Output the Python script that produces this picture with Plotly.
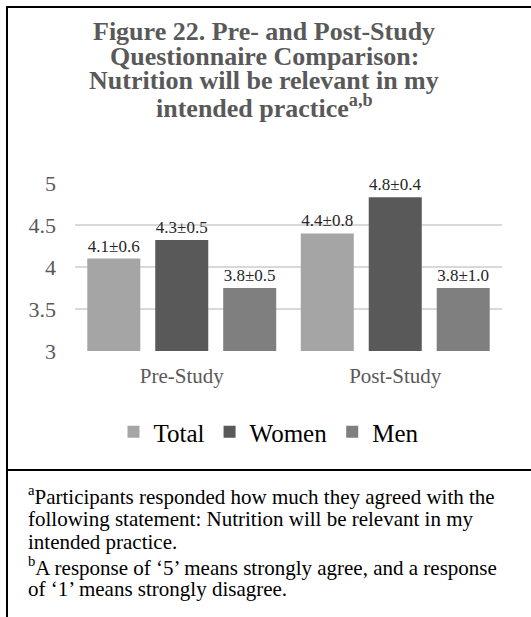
import plotly.graph_objects as go

# ---- data ----
categories = ["Pre-Study", "Post-Study"]
total_vals = [4.1, 4.4]
women_vals = [4.32, 4.83]
men_vals = [3.75, 3.75]
total_labels = ["4.1±0.6", "4.4±0.8"]
women_labels = ["4.3±0.5", "4.8±0.4"]
men_labels = ["3.8±0.5", "3.8±1.0"]
series_names = ["Total", "Women", "Men"]
series_colors = ["#A5A5A5", "#595959", "#7F7F7F"]
y_ticks = [3, 3.5, 4, 4.5, 5]
title_lines = [
    "Figure 22. Pre- and Post-Study",
    "Questionnaire Comparison:",
    "Nutrition will be relevant in my",
    "intended practice<sup>a,b</sup>",
]
footnote_lines = [
    "<sup>a</sup>Participants responded how much they agreed with the",
    "following statement: Nutrition will be relevant in my",
    "intended practice.",
    "<sup>b</sup>A response of ‘5’ means strongly agree, and a response",
    "of ‘1’ means strongly disagree.",
]

W, H = 531, 617
PL, PR, PT, PB = 75, 502, 183, 351  # plot area in pixels


def px_x(x):
    return (x - PL) / (PR - PL)


def px_y(y):
    return (PB - y) / (PB - PT)


FONT = "Liberation Serif, Times New Roman, serif"

fig = go.Figure()
for name, vals, labels, color in zip(
    series_names,
    [total_vals, women_vals, men_vals],
    [total_labels, women_labels, men_labels],
    series_colors,
):
    fig.add_trace(
        go.Bar(
            name=name,
            x=categories,
            y=vals,
            text=labels,
            textposition="outside",
            textfont=dict(family=FONT, size=17, color="#262626"),
            marker=dict(color=color, line=dict(width=0)),
            cliponaxis=False,
        )
    )

annotations = []
title_y = [31, 56, 81, 106]
for line, yy in zip(title_lines, title_y):
    annotations.append(
        dict(
            text="<b>" + line + "</b>",
            x=px_x(264),
            y=px_y(yy),
            xref="paper",
            yref="paper",
            xanchor="center",
            yanchor="middle",
            showarrow=False,
            font=dict(family=FONT, size=26, color="#595959"),
        )
    )
foot_y = [495, 519, 542, 566, 589]
for line, yy in zip(footnote_lines, foot_y):
    annotations.append(
        dict(
            text=line,
            x=px_x(26),
            y=px_y(yy),
            xref="paper",
            yref="paper",
            xanchor="left",
            yanchor="middle",
            showarrow=False,
            font=dict(family=FONT, size=21, color="#000000"),
        )
    )

shapes = [
    dict(type="line", xref="paper", yref="paper",
         x0=px_x(7), x1=px_x(7), y0=px_y(6), y1=px_y(640),
         line=dict(color="#000000", width=2)),
    dict(type="line", xref="paper", yref="paper",
         x0=px_x(6), x1=px_x(560), y0=px_y(7), y1=px_y(7),
         line=dict(color="#000000", width=2)),
    dict(type="line", xref="paper", yref="paper",
         x0=px_x(6), x1=px_x(560), y0=px_y(470), y1=px_y(470),
         line=dict(color="#000000", width=2)),
]

fig.update_layout(
    width=W,
    height=H,
    margin=dict(l=PL, r=W - PR, t=PT, b=H - PB, pad=0),
    paper_bgcolor="#FFFFFF",
    plot_bgcolor="#FFFFFF",
    barmode="group",
    bargap=0.045,
    bargroupgap=0.22,
    showlegend=True,
    legend=dict(
        orientation="h",
        x=px_x(269),
        y=px_y(432),
        xanchor="center",
        yanchor="middle",
        font=dict(family=FONT, size=25, color="#000000"),
        bgcolor="rgba(0,0,0,0)",
    ),
    annotations=annotations,
    shapes=shapes,
    xaxis=dict(
        showgrid=False,
        showline=False,
        zeroline=False,
        ticks="",
        tickfont=dict(family=FONT, size=21, color="#595959"),
        ticklabelstandoff=10,
    ),
    yaxis=dict(
        range=[3, 5],
        tickvals=y_ticks,
        showgrid=True,
        gridcolor="#D9D9D9",
        gridwidth=1.5,
        zeroline=False,
        showline=False,
        ticks="",
        tickfont=dict(family=FONT, size=22, color="#595959"),
        ticklabelstandoff=18,
    ),
)

fig.write_html(
    "out.html",
    config={"displayModeBar": False},
    post_script="document.body.style.margin='0';document.body.style.overflow='hidden';",
)
